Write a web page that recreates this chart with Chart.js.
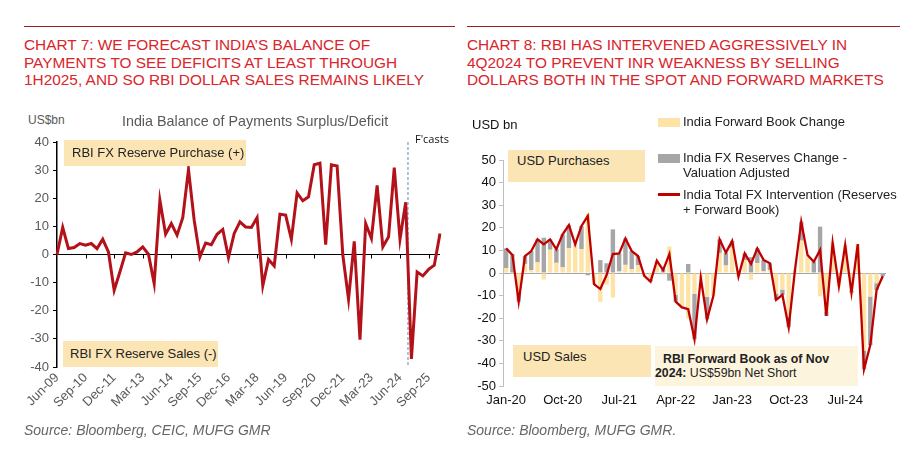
<!DOCTYPE html>
<html>
<head>
<meta charset="utf-8">
<script src="https://cdn.jsdelivr.net/npm/chart.js@4.4.1/dist/chart.umd.min.js"></script>
<style>
  body { margin: 0; width: 922px; height: 461px; background: #fff; position: relative; overflow: hidden;
         font-family: "Liberation Sans", Arial, sans-serif; }
  .rule { position: absolute; top: 26px; height: 1px; background: #a11d22; }
  .title { position: absolute; top: 36px; color: #d9252b; font-size: 15.4px; line-height: 17.5px; white-space: nowrap; }
  .src { position: absolute; top: 422px; font-size: 14px; font-style: italic; color: #666; white-space: nowrap; }
  .lbl { position: absolute; white-space: nowrap; }
  .box { position: absolute; background: #fce5b4; font-size: 13px; color: #222; white-space: nowrap; }
  canvas { position: absolute; }
  .sw { position: absolute; }
</style>
</head>
<body>
<div class="rule" style="left:24px;width:431px"></div>
<div class="rule" style="left:467px;width:433px"></div>

<div class="title" style="left:24px">CHART 7: WE FORECAST INDIA’S BALANCE OF<br>PAYMENTS TO SEE DEFICITS AT LEAST THROUGH<br>1H2025, AND SO RBI DOLLAR SALES REMAINS LIKELY</div>
<div class="title" style="left:467px">CHART 8: RBI HAS INTERVENED AGGRESSIVELY IN<br>4Q2024 TO PREVENT INR WEAKNESS BY SELLING<br>DOLLARS BOTH IN THE SPOT AND FORWARD MARKETS</div>

<canvas id="bopChart" width="460" height="300" style="left:0;top:130px;width:460px;height:300px"></canvas>
<canvas id="fxChart" width="462" height="275" style="left:460px;top:140px;width:462px;height:275px"></canvas>

<!-- chart 7 texts -->
<div class="lbl" style="left:28px;top:113px;font-size:12px;color:#595959">US$bn</div>
<div class="lbl" style="left:122px;top:113px;font-size:14.3px;color:#595959">India Balance of Payments Surplus/Deficit</div>
<div class="lbl" style="left:415px;top:131px;font-size:11px;color:#111;font-family:'Open Sans',sans-serif">F'casts</div>
<div class="box" style="left:64px;top:140px;width:182px;height:26px;line-height:26px;text-indent:8px">RBI FX Reserve Purchase (+)</div>
<div class="box" style="left:63px;top:341px;width:155px;height:26px;line-height:26px;text-indent:7px">RBI FX Reserve Sales (-)</div>

<!-- chart 8 texts -->
<div class="lbl" style="left:472px;top:117px;font-size:13px;color:#111">USD bn</div>
<div class="box" style="left:508px;top:150px;width:137px;height:32px;line-height:22px;text-indent:9px">USD Purchases</div>
<div class="box" style="left:513px;top:345px;width:138px;height:32px;line-height:24px;text-indent:10px">USD Sales</div>
<div class="box" style="left:655px;top:346px;width:203px;height:40px;background:#fdf4de;font-size:12.3px;line-height:14px;padding-top:6px;box-sizing:border-box;text-indent:8px"><b>RBI Forward Book as of Nov</b><br><b>2024:</b> US$59bn Net Short</div>

<div class="sw" style="left:658px;top:118px;width:22px;height:9px;background:#fde4a6"></div>
<div class="lbl" style="left:683px;top:114px;font-size:13px;color:#222">India Forward Book Change</div>
<div class="sw" style="left:658px;top:154px;width:22px;height:9px;background:#a6a6a6"></div>
<div class="lbl" style="left:683px;top:150px;font-size:13px;color:#222;line-height:15px">India FX Reserves Change -<br>Valuation Adjusted</div>
<div class="sw" style="left:658px;top:193px;width:22px;height:2.5px;background:#c00000"></div>
<div class="lbl" style="left:683px;top:187px;font-size:13px;color:#222;line-height:15px">India Total FX Intervention (Reserves<br>+ Forward Book)</div>

<div class="src" style="left:24px">Source: Bloomberg, CEIC, MUFG GMR</div>
<div class="src" style="left:467px">Source: Bloomberg, MUFG GMR.</div>

<script>
// ---- Chart 7: India BoP, quarterly Jun-09 .. Mar-26 (US$bn)
const bopValues = [0, 9.6, 2.1, 2.5, 3.9, 3.3, 3.9, 2.1, 5.4, 0.9,
  -12.7, -6.2, 0.6, 0, 0.9, 2.7, 0.1, -10.3, 19.3, 7.2,
  11, 6.9, 13.1, 30.2, 12.2, -0.8, 4.1, 3.5, 7.2, 8.9,
  -1.1, 7.5, 11.6, 9.8, 9.6, 13.1, -11.1, -1.8, -4.1, 14.3,
  14.0, 5.4, 21.9, 19.1, 20.5, 31.9, 32.5, 3.5, 31.9, 31.5,
  -0.2, -15.9, 4.7, -30.3, 11, 5.7, 24.6, 2.7, 6.3, 30.9,
  5.4, 18.6, -37.1, -6.2, -7.6, -5.3, -3.8, 7.5];
const bopTicks = [40, 30, 20, 10, 0, -10, -20, -30, -40];
const forecastAfter = 'Sep-24';

// ---- Chart 8: monthly Jan-20 .. Jan-25 (USD bn)
const fxReserves = [8.7, 8.4, -4, 3.5, 8.4, 10.2, 15.6, 4.6, 6, 14.6,
  10.2, 0, 10.2, -1, 0, 5.7, 4.3, 19.3, 8, 11.7,
  8, 4, 0, -1, 0, 2, -3.4, -3, 0, 4,
  -20, 0, -10, 0, 6, 5.7, 3, 0, 3, 7,
  6.5, 5, 3, -2.8, -2.4, -4.6, 0, 8.4, 0, 5,
  20.5, -2, 0, 0, 0, -1, 0, -8.3, -21.5, -3, -1];
const forwardBook = [2.2, -0.4, -8.7, 4.0, 1.3, 4.7, -2.9, 10.3, 4.5, 2.5,
  11.0, 12.7, 10.6, 26.2, -4.9, -12.8, -5.2, -10.9, 0.7, 3.6,
  1.7, 3.5, -1.3, -2.8, 5.5, -0.7, 11.8, -9.7, -15.2, -20,
  -9.3, -2.1, -10.5, -10.2, 8.9, 3.3, 11.2, -1.6, 5.7, -3,
  4.4, 0.8, 1.3, -9.1, -7.3, -19.4, 1.3, 14.3, 8, 0,
  -10.3, -17, 13.4, -5.8, 12.4, -7.7, 12.8, -34.3, -10.4, -4.5, -0.3];
const totalIntervention = [10.9, 8.0, -12.7, 7.5, 9.7, 14.9, 12.7, 14.9, 10.5, 17.1,
  21.2, 12.7, 20.8, 25.2, -4.9, -7.1, -0.9, 8.4, 8.7, 15.3,
  9.7, 7.5, -1.3, -3.8, 5.5, 1.3, 8.4, -12.7, -15.2, -16,
  -29.3, -2.1, -20.5, -10.2, 14.9, 9, 14.2, -1.6, 8.7, 4,
  10.9, 5.8, 4.3, -11.9, -9.7, -24, 1.3, 22.7, 8, 5,
  10.2, -19, 13.4, -5.8, 12.4, -8.7, 12.8, -42.6, -31.9, -7.5, -1.3];

const monthNames = ['Jan','Feb','Mar','Apr','May','Jun','Jul','Aug','Sep','Oct','Nov','Dec'];
function monthLabels(year, month, count, step) {
  const out = [];
  for (let i = 0; i < count; i++) {
    const m = month + i * step;
    out.push(monthNames[m % 12] + '-' + String((year + Math.floor(m / 12)) % 100).padStart(2, '0'));
  }
  return out;
}
const bopLabels = monthLabels(2009, 5, bopValues.length, 3);   // Jun-09 ...
const fxLabels = monthLabels(2020, 0, totalIntervention.length, 1); // Jan-20 ...

Chart.defaults.font.family = '"Liberation Sans", Arial, sans-serif';
Chart.defaults.animation = false;

const bopExtras = {
  id: 'bopExtras',
  beforeDatasetsDraw(chart) {
    const { ctx, chartArea, scales: { x, y } } = chart;
    const y0 = y.getPixelForValue(0);
    ctx.save();
    ctx.strokeStyle = '#000';
    ctx.lineWidth = 1;
    for (let i = 5; i < bopLabels.length; i += 5) {
      const px = Math.round(x.getPixelForValue(i)) + 0.5;
      ctx.beginPath(); ctx.moveTo(px, y0); ctx.lineTo(px, y0 + 4); ctx.stroke();
    }
    const fi = bopLabels.indexOf(forecastAfter);
    const fx = x.getPixelForValue(fi) + 0.4 * (x.getPixelForValue(fi + 1) - x.getPixelForValue(fi));
    ctx.setLineDash([3, 2]);
    ctx.strokeStyle = '#6a87a8';
    ctx.beginPath(); ctx.moveTo(fx, chartArea.top); ctx.lineTo(fx, chartArea.bottom); ctx.stroke();
    ctx.restore();
  }
};

new Chart(document.getElementById('bopChart'), {
  type: 'line',
  data: {
    labels: bopLabels,
    datasets: [{
      data: bopValues,
      borderColor: '#b3121b',
      borderWidth: 3,
      pointRadius: 0,
      tension: 0
    }]
  },
  options: {
    responsive: false,
    layout: { padding: { top: 12, right: 20, left: 0, bottom: 0 } },
    plugins: { legend: { display: false }, tooltip: { enabled: false } },
    scales: {
      x: {
        offset: false,
        grid: { display: false, drawTicks: false },
        border: { display: false },
        ticks: {
          autoSkip: false, maxRotation: 45, minRotation: 45, padding: 3,
          color: '#595959', font: { size: 13 },
          callback: (v, i) => (i % 5 === 0 ? bopLabels[i] : null)
        },
        afterFit: s => { s.height = 63; }
      },
      y: {
        min: -40, max: 40,
        afterBuildTicks: s => { s.ticks = bopTicks.map(v => ({ value: v })); },
        grid: {
          color: c => (c.tick && c.tick.value === 0 ? '#000' : 'rgba(0,0,0,0)'),
          tickColor: '#000', tickLength: 4, lineWidth: 1
        },
        border: { display: true, color: '#000', width: 1.5 },
        ticks: { color: '#595959', font: { size: 13 }, padding: 4 },
        afterFit: s => { s.width = 57; }
      }
    }
  },
  plugins: [bopExtras]
});

new Chart(document.getElementById('fxChart'), {
  type: 'bar',
  data: {
    labels: fxLabels,
    datasets: [
      {
        type: 'line',
        label: 'India Total FX Intervention (Reserves + Forward Book)',
        data: totalIntervention,
        borderColor: '#c00000',
        borderWidth: 2.3,
        pointRadius: 0,
        tension: 0,
        stack: 'line',
        order: 0
      },
      {
        label: 'India FX Reserves Change - Valuation Adjusted',
        data: fxReserves,
        backgroundColor: '#a6a6a6',
        stack: 'bars',
        barPercentage: 0.7,
        categoryPercentage: 1.0,
        order: 2
      },
      {
        label: 'India Forward Book Change',
        data: forwardBook,
        backgroundColor: '#fde4a6',
        stack: 'bars',
        barPercentage: 0.7,
        categoryPercentage: 1.0,
        order: 1
      }
    ]
  },
  options: {
    responsive: false,
    layout: { padding: { top: 20, right: 36, left: 0, bottom: 0 } },
    plugins: { legend: { display: false }, tooltip: { enabled: false } },
    scales: {
      x: {
        stacked: true,
        offset: true,
        grid: { display: false, drawTicks: false },
        border: { display: false },
        ticks: {
          autoSkip: false, maxRotation: 0, minRotation: 0, padding: 7,
          color: '#111', font: { size: 13 },
          callback: (v, i) => (i % 9 === 0 ? fxLabels[i] : null)
        },
        afterFit: s => { s.height = 29; }
      },
      y: {
        stacked: true,
        min: -50, max: 50,
        ticks: { stepSize: 10, color: '#111', font: { size: 13 }, padding: 3 },
        grid: {
          color: c => (c.tick && c.tick.value === 0 ? '#a6a6a6' : 'rgba(0,0,0,0)'),
          tickColor: '#bfbfbf', tickLength: 4, lineWidth: 1
        },
        border: { display: true, color: '#bfbfbf', width: 1 },
        afterFit: s => { s.width = 43; }
      }
    }
  }
});
</script>
</body>
</html>
